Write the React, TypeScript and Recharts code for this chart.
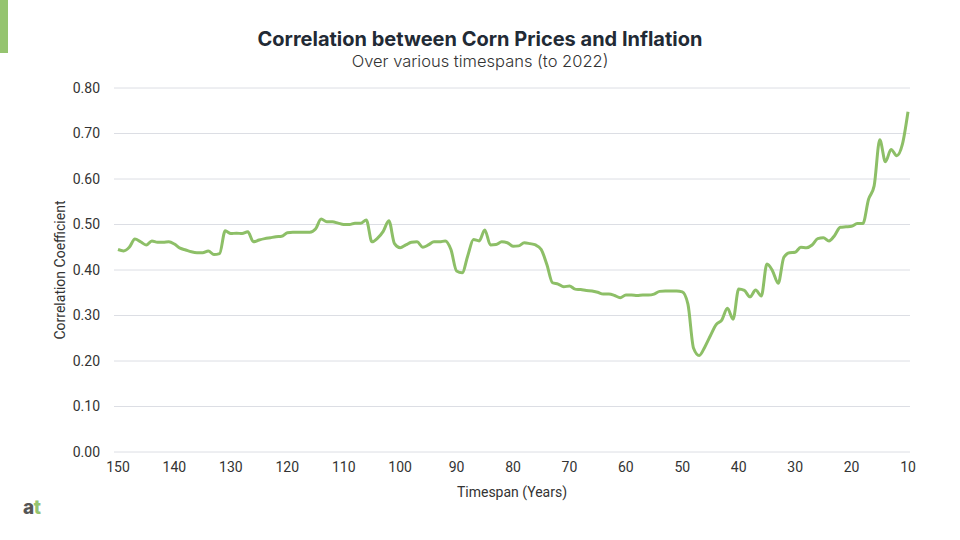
import React from 'react';
import { LineChart, Line, XAxis, YAxis, CartesianGrid } from 'recharts';

// timespan in years, from 150 down to 10
const years: number[] = Array.from({ length: 141 }, (_, i) => 150 - i);

// correlation coefficient for each timespan above
const correlation: number[] = [
  0.445, 0.442, 0.45, 0.468, 0.462, 0.455, 0.464, 0.461, 0.461, 0.462,
  0.457, 0.448, 0.444, 0.44, 0.438, 0.438, 0.442, 0.434, 0.436, 0.486,
  0.48, 0.481, 0.48, 0.484, 0.462, 0.466, 0.469, 0.471, 0.473, 0.474,
  0.482, 0.483, 0.483, 0.483, 0.483, 0.49, 0.512, 0.506, 0.506, 0.503,
  0.5, 0.5, 0.503, 0.503, 0.51, 0.462, 0.47, 0.485, 0.508, 0.458,
  0.449, 0.455, 0.461, 0.462, 0.45, 0.455, 0.462, 0.462, 0.464, 0.445,
  0.398, 0.394, 0.432, 0.467, 0.464, 0.488, 0.455, 0.456, 0.462, 0.46,
  0.452, 0.453, 0.46, 0.458, 0.455, 0.445, 0.412, 0.372, 0.369, 0.363,
  0.365, 0.358, 0.357, 0.355, 0.354, 0.351, 0.347, 0.347, 0.344, 0.339,
  0.345, 0.345, 0.344, 0.345, 0.345, 0.347, 0.353, 0.354, 0.354, 0.354,
  0.352, 0.325, 0.228, 0.212, 0.231, 0.256, 0.28, 0.29, 0.316, 0.292,
  0.358, 0.355, 0.341, 0.356, 0.343, 0.413, 0.398, 0.371, 0.428, 0.438,
  0.439, 0.45, 0.449, 0.455, 0.469, 0.471, 0.464, 0.476, 0.494, 0.495,
  0.496, 0.502, 0.502, 0.555, 0.585, 0.686, 0.638, 0.665, 0.651, 0.676,
  0.748,
];

const xTicks = [150, 140, 130, 120, 110, 100, 90, 80, 70, 60, 50, 40, 30, 20, 10];
const yTicks = [0, 0.1, 0.2, 0.3, 0.4, 0.5, 0.6, 0.7, 0.8];

const data = years.map((year, i) => ({ year, value: correlation[i] }));

const GREEN = '#8dbf67';
const TEXT = '#333333';

const App = () => {
  return (
    <div
      style={{
        position: 'absolute',
        left: 0,
        top: 0,
        width: 960,
        height: 540,
        background: '#ffffff',
        fontFamily: 'Roboto, sans-serif',
        overflow: 'hidden',
      }}
    >
      <div style={{ position: 'absolute', left: 0, top: 0, width: 8, height: 53, background: '#95c46f' }} />

      <div
        style={{
          position: 'absolute',
          top: 27,
          width: 960,
          textAlign: 'center',
          fontFamily: 'Inter, sans-serif',
          fontWeight: 700,
          fontSize: 20,
          color: '#222a35',
        }}
      >
        Correlation between Corn Prices and Inflation
      </div>
      <div
        style={{
          position: 'absolute',
          top: 51,
          width: 960,
          textAlign: 'center',
          fontFamily: 'Inter, sans-serif',
          fontWeight: 300,
          fontSize: 16.5,
          color: TEXT,
        }}
      >
        Over various timespans (to 2022)
      </div>

      <div style={{ position: 'absolute', left: 0, top: 0 }}>
        <LineChart width={960} height={540} data={data} margin={{ top: 88, right: 50, bottom: 58, left: 10 }}>
          <CartesianGrid vertical={false} stroke="#dcdee4" strokeWidth={1} />
          <XAxis
            dataKey="year"
            type="number"
            domain={[10, 150]}
            reversed
            ticks={xTicks}
            axisLine={false}
            tickLine={false}
            tickMargin={4}
            height={30}
            padding={{ left: 4, right: 2 }}
            tick={{ fontSize: 14, fill: TEXT, fontFamily: 'Roboto' }}
          />
          <YAxis
            type="number"
            domain={[0, 0.8]}
            ticks={yTicks}
            width={104}
            axisLine={false}
            tickLine={false}
            tickMargin={8}
            tickFormatter={(v: number) => v.toFixed(2)}
            tick={{ fontSize: 14, fill: TEXT, fontFamily: 'Roboto' }}
          />
          <Line
            type="monotone"
            dataKey="value"
            stroke={GREEN}
            strokeWidth={3}
            dot={false}
            activeDot={false}
            isAnimationActive={false}
          />
        </LineChart>
      </div>

      <div
        style={{
          position: 'absolute',
          left: 60,
          top: 270,
          transform: 'translate(-50%, -50%) rotate(-90deg)',
          whiteSpace: 'nowrap',
          fontSize: 14,
          color: TEXT,
        }}
      >
        Correlation Coefficient
      </div>
      <div
        style={{
          position: 'absolute',
          left: 512,
          top: 492,
          transform: 'translate(-50%, -50%)',
          whiteSpace: 'nowrap',
          fontSize: 14,
          color: TEXT,
        }}
      >
        Timespan (Years)
      </div>

      <div
        style={{
          position: 'absolute',
          left: 23,
          top: 496,
          fontFamily: 'Inter, sans-serif',
          fontWeight: 800,
          fontSize: 19,
          letterSpacing: -0.5,
        }}
      >
        <span style={{ color: '#555555' }}>a</span>
        <span style={{ color: '#95c46f' }}>t</span>
      </div>
    </div>
  );
};

export default App;
